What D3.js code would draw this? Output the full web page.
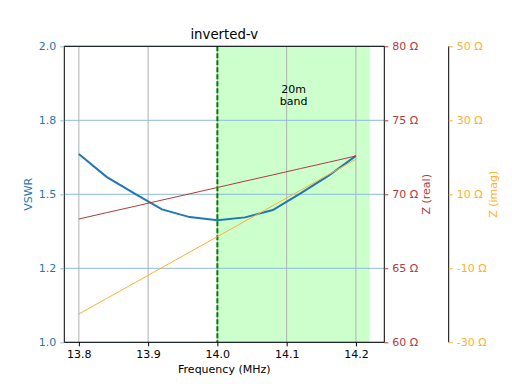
<!DOCTYPE html>
<html>
<head>
<meta charset="utf-8">
<script src="https://cdn.jsdelivr.net/npm/d3@7"></script>
<style>
  body{margin:0;background:#fff;}
  text{font-family:"DejaVu Sans",sans-serif;}
</style>
</head>
<body>
<script>
const freqs=[13.8,13.84,13.88,13.92,13.96,14.0,14.04,14.08,14.12,14.16,14.2];
const vswr=[1.636,1.559,1.503,1.449,1.423,1.412,1.422,1.447,1.503,1.562,1.630];
const zReal=[68.33,68.76,69.18,69.61,70.03,70.46,70.89,71.31,71.74,72.16,72.59];
const zImag=[-22.35,-18.17,-13.99,-9.81,-5.63,-1.45,2.73,6.91,11.09,15.28,19.46];
const band=[14.0,14.22];
const xTicks=[13.8,13.9,14.0,14.1,14.2];
const vswrTicks=[1.0,1.25,1.5,1.75,2.0];
const vswrLabels=["1.0","1.2","1.5","1.8","2.0"];
const realTicks=[60,65,70,75,80];
const imagTicks=[-30,-10,10,30,50];

const w=512,h=384;
const margin={top:46.3,bottom:41.7,left:64.3,right:127.7};
const svg=d3.select("body").append("svg").attr("width",w).attr("height",h);

const x=d3.scaleLinear().domain([13.779,14.241]).range([margin.left,w-margin.right]);
const yV=d3.scaleLinear().domain([1.0,2.0]).range([h-margin.bottom,margin.top]);
const yR=d3.scaleLinear().domain([60,80]).range([h-margin.bottom,margin.top]);
const yI=d3.scaleLinear().domain([-30,50]).range([h-margin.bottom,margin.top]);

const blue="#1f77b4",brown="#b03c3c",orange="#ffb030";

// band shading
svg.append("rect")
  .attr("x",x(band[0])).attr("y",margin.top)
  .attr("width",x(band[1])-x(band[0]))
  .attr("height",h-margin.bottom-margin.top)
  .attr("fill","#ccffcc");

// grid
svg.append("g").selectAll("line").data(xTicks).join("line")
  .attr("x1",d=>x(d)).attr("x2",d=>x(d))
  .attr("y1",margin.top).attr("y2",h-margin.bottom)
  .attr("stroke","#b0b0b0").attr("stroke-width",1);
svg.append("g").selectAll("line").data(vswrTicks).join("line")
  .attr("x1",margin.left).attr("x2",w-margin.right)
  .attr("y1",d=>yV(d)).attr("y2",d=>yV(d))
  .attr("stroke","#8fbbda").attr("stroke-width",1);

// dashed band start
svg.append("line")
  .attr("x1",x(band[0])).attr("x2",x(band[0]))
  .attr("y1",margin.top).attr("y2",h-margin.bottom)
  .attr("stroke","#008000").attr("stroke-width",2)
  .attr("stroke-dasharray","5,2");

svg.append("text").attr("x",x(14.11)).attr("y",93)
  .attr("text-anchor","middle").style("font-size","11px").text("20m");
svg.append("text").attr("x",x(14.11)).attr("y",105)
  .attr("text-anchor","middle").style("font-size","11px").text("band");

// lines
const line=(ys,scale)=>d3.line().x((d,i)=>x(freqs[i])).y(d=>scale(d))(ys);
svg.append("path").attr("d",line(vswr,yV)).attr("fill","none")
  .attr("stroke",blue).attr("stroke-width",2);
svg.append("path").attr("d",line(zReal,yR)).attr("fill","none")
  .attr("stroke",brown).attr("stroke-width",1);
svg.append("path").attr("d",line(zImag,yI)).attr("fill","none")
  .attr("stroke",orange).attr("stroke-width",1);

// frame
svg.append("rect").attr("x",margin.left).attr("y",margin.top)
  .attr("width",w-margin.right-margin.left).attr("height",h-margin.bottom-margin.top)
  .attr("fill","none").attr("stroke","#000").attr("stroke-width",1);

function styleAxis(g,color){
  g.select(".domain").remove();
  g.selectAll(".tick line").attr("stroke",color);
  g.selectAll(".tick text").attr("fill",color).style("font-size","11px")
    .style("font-family","DejaVu Sans, sans-serif");
}

const xAxis=svg.append("g").attr("transform",`translate(0,${h-margin.bottom})`)
  .call(d3.axisBottom(x).tickValues(xTicks).tickFormat(d3.format(".1f")).tickSize(4).tickPadding(4));
styleAxis(xAxis,"#000");

const vAxis=svg.append("g").attr("transform",`translate(${margin.left},0)`)
  .call(d3.axisLeft(yV).tickValues(vswrTicks).tickFormat((d,i)=>vswrLabels[i]).tickSize(4).tickPadding(4));
styleAxis(vAxis,blue);
vAxis.selectAll(".tick line").attr("stroke","#8fbbda");

const rAxis=svg.append("g").attr("transform",`translate(${w-margin.right},0)`)
  .call(d3.axisRight(yR).tickValues(realTicks).tickFormat(d=>`${d} Ω`).tickSize(4).tickPadding(4));
styleAxis(rAxis,brown);

const iX=448.7;
svg.append("line").attr("x1",iX).attr("x2",iX)
  .attr("y1",margin.top).attr("y2",h-margin.bottom).attr("stroke","#000");
const iAxis=svg.append("g").attr("transform",`translate(${iX},0)`)
  .call(d3.axisRight(yI).tickValues(imagTicks).tickFormat(d=>`${d} Ω`).tickSize(4).tickPadding(4));
styleAxis(iAxis,orange);

// labels
svg.append("text").attr("x",(margin.left+w-margin.right)/2).attr("y",39)
  .attr("text-anchor","middle").style("font-size","13.3px").text("inverted-v");
svg.append("text").attr("x",(margin.left+w-margin.right)/2).attr("y",373)
  .attr("text-anchor","middle").style("font-size","11px").text("Frequency (MHz)");
svg.append("text").attr("transform",`translate(32,${yV(1.5)}) rotate(-90)`)
  .attr("text-anchor","middle").attr("fill",blue).style("font-size","11px").text("VSWR");
svg.append("text").attr("transform",`translate(430,${yV(1.5)}) rotate(-90)`)
  .attr("text-anchor","middle").attr("fill",brown).style("font-size","11px").text("Z (real)");
svg.append("text").attr("transform",`translate(497,${yV(1.5)}) rotate(-90)`)
  .attr("text-anchor","middle").attr("fill",orange).style("font-size","11px").text("Z (imag)");
</script>
</body>
</html>
